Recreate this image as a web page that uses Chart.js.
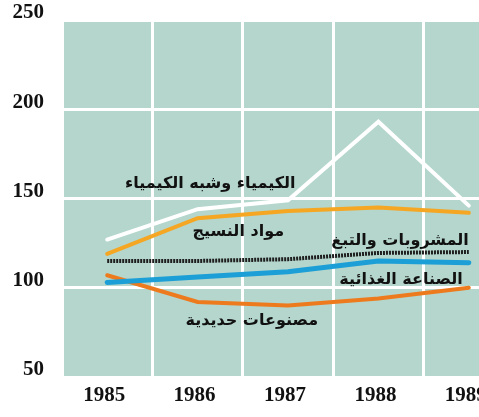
<!DOCTYPE html>
<html>
<head>
<meta charset="utf-8">
<script src="https://cdn.jsdelivr.net/npm/chart.js@4"></script>
<style>
  html, body { margin: 0; padding: 0; background: #fff; overflow: hidden; }
  #wrap { width: 520px; height: 417px; }
</style>
</head>
<body>
<div id="wrap"><canvas id="myChart" width="520" height="417"></canvas></div>
<script>
// values (index, 1985 = 100)
var years = ['1985', '1986', '1987', '1988', '1989'];
var chemicals = [127, 144, 149, 193, 146];
var textiles = [119, 139, 143, 145, 142];
var drinksTobacco = [115, 115, 116, 119.5, 120];
var foodIndustry = [103, 106, 109, 115, 114];
var metalProducts = [107, 92, 90, 94, 100];
var yTicks = [50, 100, 150, 200, 250];

var names = ['الكيمياء وشبه الكيمياء', 'مواد النسيج', 'المشروبات والتبغ', 'الصناعة الغذائية', 'مصنوعات حديدية'];

// where each series name sits (category index, value)
var namePos = [[1.14, 158], [1.45, 131.5], [3.24, 126], [3.25, 104.5], [1.6, 81.5]];

var bgPlugin = {
    id: 'bg',
    beforeDraw: function(chart) {
        var ctx = chart.ctx, a = chart.chartArea;
        ctx.save();
        ctx.fillStyle = '#fff';
        ctx.fillRect(0, 0, chart.width, chart.height);
        ctx.fillStyle = '#b4d6cc';
        ctx.fillRect(a.left, a.top, a.right - a.left, a.bottom - a.top);
        ctx.restore();
    }
};

var namesPlugin = {
    id: 'names',
    afterDatasetsDraw: function(chart) {
        var ctx = chart.ctx;
        var xs = chart.scales.x, ys = chart.scales.y;
        ctx.save();
        ctx.fillStyle = '#111';
        ctx.font = 'bold 16px "DejaVu Sans"';
        ctx.textAlign = 'center';
        ctx.textBaseline = 'middle';
        ctx.direction = 'rtl';
        names.forEach(function(n, i) {
            ctx.fillText(n, xs.getPixelForValue(namePos[i][0]), ys.getPixelForValue(namePos[i][1]));
        });
        ctx.restore();
    }
};

var chart = new Chart(document.getElementById('myChart').getContext('2d'), {
    type: 'line',
    data: {
        labels: years,
        datasets: [
            { label: names[0], data: chemicals, borderColor: '#ffffff', borderWidth: 4 },
            { label: names[1], data: textiles, borderColor: '#f5a623', borderWidth: 4 },
            { label: names[2], data: drinksTobacco, borderColor: '#1e1e1e', borderWidth: 4, borderDash: [2, 1], borderCapStyle: 'butt' },
            { label: names[3], data: foodIndustry, borderColor: '#1c9ed6', borderWidth: 5 },
            { label: names[4], data: metalProducts, borderColor: '#ee7a1e', borderWidth: 4 }
        ]
    },
    options: {
        responsive: false,
        animation: false,
        elements: { point: { radius: 0 }, line: { tension: 0, borderCapStyle: 'round' } },
        layout: { padding: { top: 20, right: 6, left: 0, bottom: 0 } },
        plugins: { legend: { display: false }, tooltip: { enabled: false } },
        scales: {
            x: {
                offset: true,
                grid: { offset: true, color: '#fff', lineWidth: 3, drawTicks: false },
                border: { display: false },
                ticks: { color: '#111', padding: 6, labelOffset: -3, font: { family: 'Liberation Serif', weight: 'bold', size: 21 } },
                afterFit: function(s) { s.height = 40; }
            },
            y: {
                min: 50,
                max: 250,
                afterBuildTicks: function(s) { s.ticks = yTicks.map(function(v) { return { value: v }; }); },
                grid: { color: '#fff', lineWidth: 3, drawTicks: false },
                border: { display: false },
                ticks: { color: '#111', padding: 18, labelOffset: -7, font: { family: 'Liberation Serif', weight: 'bold', size: 21 } },
                afterFit: function(s) { s.width = 62; s.paddingTop = 0; s.paddingBottom = 0; }
            }
        }
    },
    plugins: [bgPlugin, namesPlugin]
});
</script>
</body>
</html>
